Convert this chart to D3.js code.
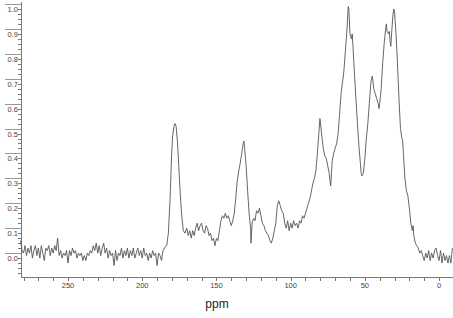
<!DOCTYPE html>
<html>
<head>
<meta charset="utf-8">
<script src="https://cdn.jsdelivr.net/npm/d3@7"></script>
<style>
  body { margin: 0; background: #fff; }
  svg { display: block; font-family: "Liberation Sans", Arial, sans-serif; }
</style>
</head>
<body>
<div id="chart"></div>
<script>
// chemical shift (ppm) and normalised intensity
const ppm = [
  282, 281, 280, 279, 278, 277, 276, 275, 274, 273, 272, 271, 270, 269, 268, 267, 266, 265, 264, 263,
  262, 261, 260, 259, 258, 257, 256, 255, 254, 253, 252, 251, 250, 249, 248, 247, 246, 245, 244, 243,
  242, 241, 240, 239, 238, 237, 236, 235, 234, 233, 232, 231, 230, 229, 228, 227, 226, 225, 224, 223,
  222, 221, 220, 219, 218, 217, 216, 215, 214, 213, 212, 211, 210, 209, 208, 207, 206, 205, 204, 203,
  202, 201, 200, 199, 198, 197, 196, 195, 194, 193, 192, 191, 190, 189, 188, 187, 186,
  184.6, 183.5, 182.4, 181.3, 180.1, 179.5, 178.6, 177.9, 177.2, 176.3, 175.4, 174.5, 173.4, 172.3, 171.2,
  170, 169, 168, 167, 166, 165, 164, 163, 162, 161, 160, 159, 158, 157, 156, 155, 154, 153, 152, 151,
  150, 149, 148, 147, 146, 145, 144, 143, 142, 141, 140, 139, 138, 137, 136, 135, 134, 133, 132, 131.5,
  131, 130, 129, 128, 127, 126.7, 126, 125, 124, 123, 122, 121, 120, 119, 118, 117, 116, 115, 114, 113,
  112, 111, 110, 109, 108, 107, 106, 105, 104, 103, 102, 101, 100, 99, 98, 97, 96, 95, 94, 93,
  92, 91, 90, 89, 88, 87, 86, 85, 84, 83, 82, 81, 80.3, 80, 79, 78, 77, 76, 75, 74,
  73.5, 73, 72.5, 72, 71, 70, 69, 68, 67, 66, 65, 64.5, 64, 63, 62, 61.2, 60.8, 60, 59, 58.5,
  58, 57, 56, 55, 54, 53, 52.5, 52, 51, 50, 49, 48, 47, 46, 45.5, 45, 44.5, 44, 43, 42,
  41, 40.5, 40, 39, 38, 37, 36, 35.5, 35, 34, 33.5, 33, 32.5, 32, 31, 30.5, 30, 29, 28, 27,
  26, 25, 24.5, 24, 23, 22, 21, 20, 19, 18, 17.5, 17, 16, 15, 14, 13, 12, 11, 10, 9,
  8, 7, 6, 5, 4, 3, 2, 1, 0, -1, -2, -3, -4, -5, -6, -7, -8, -9
];
const intensity = [
  0.05, 0.01, 0.00, 0.03, -0.01, 0.02, 0.00, 0.03, -0.02, 0.01, 0.03, -0.01, 0.02, -0.02, 0.03, 0.00, -0.03, 0.02, 0.01, 0.03,
  -0.01, 0.02, 0.00, 0.03, 0.01, 0.06, -0.01, 0.01, -0.02, 0.00, -0.01, 0.01, -0.04, 0.01, -0.01, 0.02, 0.00, 0.01, -0.02, 0.00,
  -0.01, 0.00, -0.03, -0.01, -0.03, 0.00, -0.01, 0.01, 0.00, 0.03, 0.01, 0.04, 0.00, 0.03, -0.01, 0.02, 0.04, 0.00, 0.02, -0.02,
  0.01, -0.01, 0.00, -0.05, 0.01, -0.03, 0.00, -0.01, 0.02, -0.02, 0.01, -0.01, 0.02, -0.02, 0.01, -0.01, 0.02, -0.02, 0.00, 0.02,
  -0.01, 0.01, -0.02, 0.02, -0.01, 0.00, -0.03, 0.00, -0.02, 0.01, -0.01, 0.00, -0.05, 0.00, -0.01, -0.03, 0.01,
  0.025, 0.03, 0.08, 0.21, 0.41, 0.47, 0.51, 0.52, 0.51, 0.45, 0.35, 0.25, 0.15, 0.09, 0.08,
  0.10, 0.07, 0.09, 0.06, 0.09, 0.07, 0.10, 0.12, 0.09, 0.11, 0.12, 0.09, 0.08, 0.11, 0.10, 0.07, 0.08, 0.05, 0.06, 0.03,
  0.06, 0.05, 0.09, 0.13, 0.15, 0.14, 0.16, 0.14, 0.15, 0.13, 0.11, 0.13, 0.16, 0.22, 0.29, 0.33, 0.36, 0.40, 0.44, 0.45,
  0.42, 0.35, 0.25, 0.16, 0.10, 0.04, 0.12, 0.14, 0.13, 0.17, 0.16, 0.18, 0.15, 0.12, 0.11, 0.09, 0.08, 0.07, 0.05, 0.04,
  0.06, 0.09, 0.12, 0.19, 0.21, 0.19, 0.17, 0.16, 0.12, 0.10, 0.13, 0.09, 0.12, 0.10, 0.13, 0.11, 0.12, 0.10, 0.13, 0.12,
  0.15, 0.14, 0.16, 0.18, 0.20, 0.22, 0.25, 0.28, 0.30, 0.33, 0.40, 0.48, 0.54, 0.53, 0.47, 0.42, 0.39, 0.38, 0.35, 0.32,
  0.29, 0.27, 0.32, 0.37, 0.40, 0.42, 0.44, 0.48, 0.56, 0.64, 0.69, 0.71, 0.74, 0.82, 0.90, 0.99, 0.98, 0.88, 0.86, 0.88,
  0.83, 0.72, 0.62, 0.52, 0.43, 0.36, 0.32, 0.31, 0.32, 0.38, 0.46, 0.52, 0.60, 0.68, 0.70, 0.71, 0.69, 0.66, 0.64, 0.62,
  0.60, 0.58, 0.60, 0.66, 0.76, 0.84, 0.90, 0.92, 0.89, 0.88, 0.89, 0.85, 0.83, 0.88, 0.96, 0.98, 0.97, 0.88, 0.76, 0.62,
  0.50, 0.46, 0.45, 0.40, 0.30, 0.25, 0.23, 0.18, 0.12, 0.09, 0.11, 0.07, 0.04, 0.03, 0.02, 0.00, 0.01, -0.01, -0.03, 0.00,
  -0.02, 0.01, -0.03, 0.00, -0.02, 0.01, 0.02, -0.01, -0.03, 0.01, -0.04, 0.00, -0.03, -0.01, -0.04, -0.01, -0.04, 0.02
];
const xTicks = [250, 200, 150, 100, 50, 0];
const yTicks = [0.0, 0.1, 0.2, 0.3, 0.4, 0.5, 0.6, 0.7, 0.8, 0.9, 1.0];

const width = 453, height = 318;
const plotLeft = 21, plotRight = 453, plotTop = 2, plotBottom = 277;

const svg = d3.select("#chart").append("svg")
    .attr("width", width)
    .attr("height", height);

// reversed ppm axis, like the spectrometer output
const x = d3.scaleLinear().domain([281.7, -9.4]).range([plotLeft, plotRight]);
const y = d3.scaleLinear().domain([-0.096, 1.008]).range([plotBottom, plotTop]);

const axisColor = "#777";

// y axis
svg.append("line")
    .attr("x1", plotLeft + 0.5).attr("x2", plotLeft + 0.5)
    .attr("y1", plotTop).attr("y2", plotBottom)
    .attr("stroke", axisColor);

const yMinor = d3.range(-0.08, 1.001, 0.02).filter(v => Math.abs(Math.round(v * 10) - v * 10) > 0.01);
svg.append("g").selectAll("line")
    .data(yMinor)
    .enter().append("line")
    .attr("x1", plotLeft - 3).attr("x2", plotLeft)
    .attr("y1", d => Math.round(y(d)) + 0.5).attr("y2", d => Math.round(y(d)) + 0.5)
    .attr("stroke", axisColor);

const yMajor = svg.append("g").selectAll("g")
    .data(yTicks)
    .enter().append("g")
    .attr("transform", d => `translate(0, ${Math.round(y(d)) + 0.5})`);
yMajor.append("line")
    .attr("x1", 5).attr("x2", plotLeft)
    .attr("stroke", "#999");
yMajor.append("text")
    .attr("x", 18).attr("y", 7)
    .attr("text-anchor", "end")
    .style("font-size", "7.5px")
    .style("fill", "#444")
    .text(d => d.toFixed(1));

// x axis
svg.append("line")
    .attr("x1", plotLeft).attr("x2", plotRight)
    .attr("y1", plotBottom + 0.5).attr("y2", plotBottom + 0.5)
    .attr("stroke", axisColor);

svg.append("g").selectAll("line")
    .data(d3.range(280, -10, -10))
    .enter().append("line")
    .attr("x1", d => Math.round(x(d)) + 0.5).attr("x2", d => Math.round(x(d)) + 0.5)
    .attr("y1", plotBottom).attr("y2", plotBottom + 4)
    .attr("stroke", axisColor);

svg.append("g").selectAll("text")
    .data(xTicks)
    .enter().append("text")
    .attr("x", d => x(d))
    .attr("y", 288)
    .attr("text-anchor", "middle")
    .style("font-size", "7.5px")
    .style("fill", "#444")
    .text(d => d);

svg.append("text")
    .attr("x", 217).attr("y", 308)
    .attr("text-anchor", "middle")
    .style("font-size", "12px")
    .style("fill", "#222")
    .text("ppm");

// spectrum trace
const points = ppm.map((p, i) => [p, intensity[i]]);
const line = d3.line()
    .x(d => x(d[0]))
    .y(d => y(d[1]));

svg.append("path")
    .datum(points)
    .attr("fill", "none")
    .attr("stroke", "#555")
    .attr("stroke-width", 0.9)
    .attr("d", line);
</script>
</body>
</html>
